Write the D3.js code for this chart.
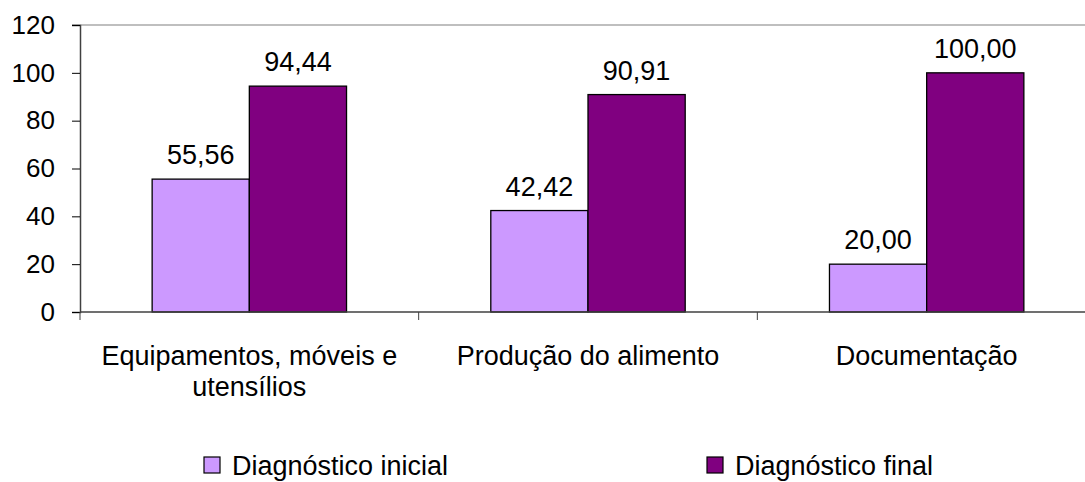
<!DOCTYPE html>
<html><head><meta charset="utf-8">
<script src="https://cdn.jsdelivr.net/npm/d3@7"></script>
<style>body{margin:0;background:#fff;}svg{display:block;font-family:"Liberation Sans",Arial,sans-serif;}</style>
</head><body>
<script>
const categories = [["Equipamentos, móveis e","utensílios"],["Produção do alimento"],["Documentação"]];
const seriesNames = ["Diagnóstico inicial","Diagnóstico final"];
const inicial = [55.56, 42.42, 20.00];
const final = [94.44, 90.91, 100.00];
const yTicks = [0,20,40,60,80,100,120];
const colors = ["#CC99FF","#800080"];

const W=1085,H=482;
const svg=d3.select("body").append("svg").attr("width",W).attr("height",H);
const pLeft=80,pRight=1096,pTop=25,pBottom=312;
const x=d3.scaleBand().domain(d3.range(3)).range([pLeft,pRight]).paddingInner(0).paddingOuter(0);
const y=d3.scaleLinear().domain([0,120]).range([pBottom,pTop]);
const barW=x.bandwidth()*0.287;
const FS=27;

// top border
svg.append("line").attr("x1",pLeft-8).attr("x2",W).attr("y1",y(120)).attr("y2",y(120)).attr("stroke","#808080").attr("stroke-width",1.2);

// y axis
const ya=svg.append("g").attr("transform",`translate(${pLeft},0)`).call(d3.axisLeft(y).tickValues(yTicks).tickSize(8).tickPadding(17).tickFormat(d3.format("d")));
ya.select(".domain").attr("stroke","#404040").attr("stroke-width",1.5);
ya.selectAll(".tick line").attr("stroke","#000");
ya.selectAll("text").attr("font-size",26).attr("fill","#000").attr("font-family","Liberation Sans, Arial, sans-serif");

// bars
const data=[inicial,final];
data.forEach((vals,s)=>{
  svg.append("g").selectAll("rect").data(vals).join("rect")
    .attr("x",(d,i)=>x(i)+x.bandwidth()/2+(s-1)*barW)
    .attr("y",d=>y(d)).attr("width",barW).attr("height",d=>y(0)-y(d))
    .attr("fill",colors[s]).attr("stroke","#000").attr("stroke-width",1.3);
  svg.append("g").selectAll("text").data(vals).join("text")
    .attr("x",(d,i)=>x(i)+x.bandwidth()/2+(s-0.5)*barW)
    .attr("y",d=>y(d)-15).attr("text-anchor","middle").attr("font-size",FS).attr("fill","#000")
    .text(d=>d.toFixed(2).replace(".",","));
});

// x axis
const xa=svg.append("g").attr("transform",`translate(0,${pBottom})`);
xa.append("line").attr("x1",pLeft).attr("x2",W).attr("stroke","#404040").attr("stroke-width",1.5);
xa.selectAll("line.t").data(d3.range(4)).join("line").attr("class","t")
  .attr("x1",i=>pLeft+i*x.bandwidth()).attr("x2",i=>pLeft+i*x.bandwidth()).attr("y1",0).attr("y2",8).attr("stroke","#404040");
categories.forEach((lines,i)=>{
  const t=xa.append("text").attr("x",x(i)+x.bandwidth()/2).attr("y",53).attr("text-anchor","middle").attr("font-size",FS).attr("fill","#000");
  lines.forEach((l,j)=>t.append("tspan").attr("x",x(i)+x.bandwidth()/2).attr("dy",j?31:0).text(l));
});

// legend
const legX=[204,707];
seriesNames.forEach((n,s)=>{
  svg.append("rect").attr("x",legX[s]).attr("y",457).attr("width",16).attr("height",16).attr("fill",colors[s]).attr("stroke","#000").attr("stroke-width",1.2);
  svg.append("text").attr("x",legX[s]+28).attr("y",475).attr("font-size",FS).attr("fill","#000").text(n);
});
</script>
</body></html>
